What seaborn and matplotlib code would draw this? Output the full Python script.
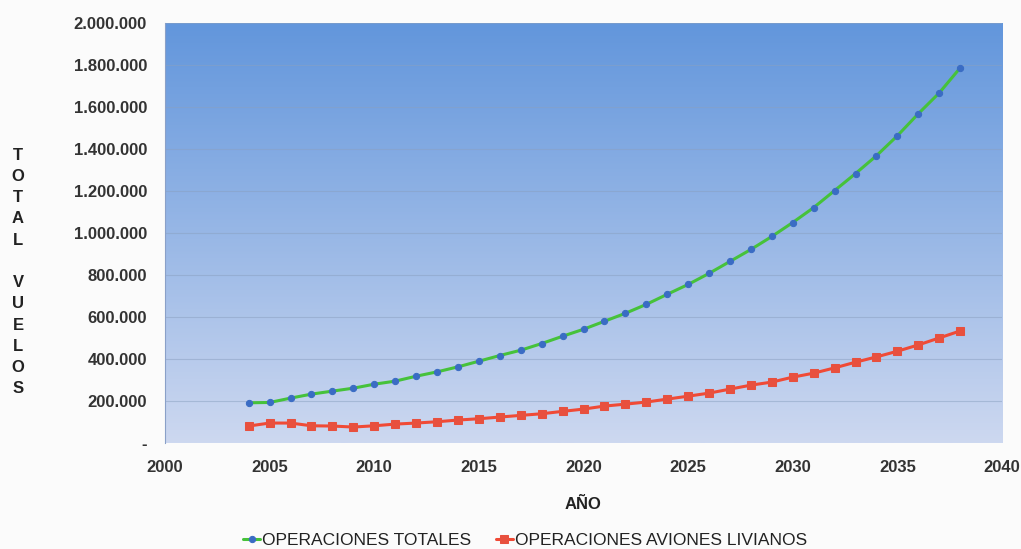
import numpy as np
import pandas as pd
import matplotlib
matplotlib.use("Agg")
import matplotlib.pyplot as plt
import seaborn as sns
from matplotlib.ticker import FuncFormatter, MultipleLocator

years = list(range(2004, 2039))
totales = [191500, 193000, 213700, 232800, 247000, 261000, 280000, 294500, 318000, 338700,
           362600, 389500, 416600, 441800, 473600, 508300, 541600, 579600, 617600, 660000,
           708000, 755000, 807600, 864600, 921600, 983400, 1050000, 1121000, 1202000, 1283000,
           1368000, 1463000, 1568000, 1667000, 1786000]
livianos = [80800, 95000, 95000, 82000, 80800, 76000, 82000, 90000, 95000, 101200,
            109300, 115500, 123500, 131600, 139200, 150600, 161500, 175800, 185000, 195000,
            209000, 223000, 237500, 256500, 275500, 290000, 313600, 332500, 357700, 384800,
            410000, 437000, 467000, 500200, 533500]
series_names = ["OPERACIONES TOTALES", "OPERACIONES AVIONES LIVIANOS"]
x_ticks = [2000, 2005, 2010, 2015, 2020, 2025, 2030, 2035, 2040]

df = pd.DataFrame({"year": years * 2,
                   "value": totales + livianos,
                   "serie": [series_names[0]] * len(years) + [series_names[1]] * len(years)})

sns.set_style("white")
plt.rcParams["font.family"] = ["Liberation Sans", "DejaVu Sans"]

fig = plt.figure(figsize=(10.21, 5.49), dpi=100, facecolor="#fbfbfb")
ax = fig.add_axes([165 / 1021, 1 - 443 / 549, (1002 - 165) / 1021, (443 - 23) / 549])

# gradient background
grad = np.linspace(0, 1, 256).reshape(-1, 1)
top = np.array([98, 150, 220]) / 255
bot = np.array([205, 216, 240]) / 255
img = top[None, None, :] * (1 - grad[:, :, None]) + bot[None, None, :] * grad[:, :, None]
ax.imshow(img, extent=[0, 1, 0, 1], transform=ax.transAxes, aspect="auto", zorder=0)

ax.set_xlim(2000, 2040)
ax.set_ylim(0, 2000000)
ax.yaxis.set_major_locator(MultipleLocator(200000))
ax.set_xticks(x_ticks)
for yv in range(200000, 2000001, 200000):
    ax.axhline(yv, color="#8aa0c0", lw=0.8, alpha=0.5, zorder=1)

sns.lineplot(data=df[df.serie == series_names[0]], x="year", y="value", ax=ax,
             color="#46c23a", lw=2.2, marker="o", markersize=4.5,
             markerfacecolor="#3a6cc4", markeredgecolor="#3a6cc4", label=series_names[0], zorder=3)
sns.lineplot(data=df[df.serie == series_names[1]], x="year", y="value", ax=ax,
             color="#f04a36", lw=2.2, marker="s", markersize=6,
             markerfacecolor="#e8503e", markeredgecolor="#e8503e", label=series_names[1], zorder=3)

def fmt(v, pos):
    if v == 0:
        return "-"
    return f"{int(v):,}".replace(",", ".")
ax.yaxis.set_major_formatter(FuncFormatter(fmt))

for s in ["top", "right", "bottom"]:
    ax.spines[s].set_visible(False)
ax.spines["left"].set_color("#8aa0c8")
ax.tick_params(axis="y", labelsize=12, colors="#333333", length=0, pad=13)
ax.tick_params(axis="x", labelsize=12, colors="#333333", length=0, pad=12)
for lbl in ax.get_xticklabels() + ax.get_yticklabels():
    lbl.set_fontweight("bold")
    lbl.set_color("#333333")

ax.set_xlabel("AÑO", fontsize=12, fontweight="bold", color="#222222", labelpad=16)
ax.set_ylabel("")
fig.text(18 / 1021, 1 - 272 / 549, "T\nO\nT\nA\nL\n\nV\nU\nE\nL\nO\nS", ha="center", va="center",
         fontsize=12, fontweight="bold", color="#222222", linespacing=1.52)

ax.legend(loc="center", bbox_to_anchor=(525 / 1021, 1 - 540 / 549), bbox_transform=fig.transFigure,
          ncol=2, frameon=False, handlelength=1.0, handletextpad=0.1, columnspacing=1.4,
          prop={"size": 12.5})
leg = ax.get_legend()
for t in leg.get_texts():
    t.set_color("#222222")

fig.savefig("out.png", dpi=100, facecolor=fig.get_facecolor())
